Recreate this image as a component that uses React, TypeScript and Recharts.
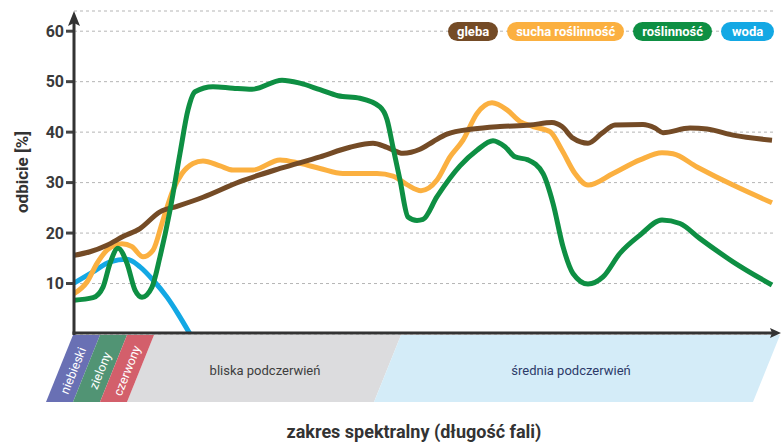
import React from 'react';
import { LineChart, Line, XAxis, YAxis, CartesianGrid } from 'recharts';

// spectral position (arbitrary units along the x axis) and reflectance [%]
const glebaX = [0, 16, 33, 49, 66, 86, 103, 129, 166, 206, 246, 276, 299, 313, 329, 346, 359, 373, 399, 426, 456, 478, 488, 499, 514, 528, 541, 569, 581, 589, 616, 633, 659, 698];
const glebaY = [15.6, 16.3, 17.6, 19.3, 20.9, 24.2, 25.3, 27.1, 30.2, 32.8, 35.1, 37, 37.8, 37, 35.8, 36.6, 38.1, 39.6, 40.6, 41.1, 41.4, 41.9, 41.1, 38.8, 37.8, 39.8, 41.4, 41.5, 40.8, 39.9, 40.8, 40.6, 39.4, 38.4];

const suchaX = [0, 13, 23, 33, 48, 58, 69, 79, 89, 99, 108, 119, 129, 146, 159, 179, 206, 226, 246, 269, 303, 319, 333, 347, 363, 376, 389, 403, 418, 433, 446, 459, 476, 488, 501, 514, 539, 566, 588, 599, 623, 659, 698];
const suchaY = [8, 10.3, 14, 16.6, 17.9, 17.3, 15.3, 16.6, 22.6, 28.5, 31.8, 33.8, 34.3, 33.3, 32.5, 32.5, 34.5, 33.8, 32.8, 31.8, 31.8, 31.3, 29.6, 28.4, 30.5, 35.1, 38.4, 43.7, 45.8, 44.4, 42.1, 41.1, 40.1, 36.4, 31.8, 29.5, 31.8, 34.5, 35.9, 35.7, 33.1, 29.5, 26];

const roslX = [0, 19, 29, 36, 44, 53, 61, 68, 78, 86, 96, 106, 114, 121, 139, 159, 178, 208, 226, 246, 264, 286, 306, 313, 319, 326, 334, 343, 349, 363, 386, 403, 419, 431, 441, 454, 469, 479, 489, 499, 514, 529, 546, 566, 588, 606, 626, 659, 698];
const roslY = [6.7, 7.2, 9.3, 14, 17, 14, 8.7, 7.3, 9.3, 15.3, 24.5, 35.8, 44.4, 48, 49, 48.7, 48.5, 50.3, 49.7, 48.4, 47.2, 46.7, 45, 42.5, 37, 30.5, 23.2, 22.5, 22.7, 27.2, 33.3, 36.4, 38.3, 37.1, 35.1, 34.5, 31.8, 25.9, 17.3, 12, 9.9, 11.3, 16, 19.6, 22.6, 21.9, 18.9, 14.3, 9.7];

const wodaX = [0, 19, 36, 53, 66, 79, 93, 104, 116];
const wodaY = [10.1, 12.3, 14.3, 14.8, 13.3, 10.7, 7.3, 4, 0];

const yTicks = [10, 20, 30, 40, 50, 60];
const seriesNames = ['gleba', 'sucha roślinność', 'roślinność', 'woda'];
const bandNamesVisible = ['niebieski', 'zielony', 'czerwony'];
const bandNamesInfrared = ['bliska podczerwień', 'średnia podczerwień'];
const yTitle = 'odbicie [%]';
const xTitle = 'zakres spektralny (długość fali)';

const zip = (xs: number[], ys: number[]) => xs.map((x, i) => ({ x, y: ys[i] }));

const COLORS = {
  gleba: '#744b26',
  sucha: '#fbb040',
  rosl: '#0e8f43',
  woda: '#13a8e4',
};
const FONT = 'Roboto, "DejaVu Sans", sans-serif';

const series = [
  { name: seriesNames[3], data: zip(wodaX, wodaY), color: COLORS.woda },
  { name: seriesNames[1], data: zip(suchaX, suchaY), color: COLORS.sucha },
  { name: seriesNames[0], data: zip(glebaX, glebaY), color: COLORS.gleba },
  { name: seriesNames[2], data: zip(roslX, roslY), color: COLORS.rosl },
];
const legendColors = [COLORS.gleba, COLORS.sucha, COLORS.rosl, COLORS.woda];

const W = 781;
const H = 442;

function Overlay() {
  const top = 335;
  const bot = 402;
  const s = 27;
  const para = (x0: number, x1: number) =>
    `${x0},${top} ${x1},${top} ${x1 - s},${bot} ${x0 - s},${bot}`;
  const visFills = ['#6970b4', '#519474', '#d35f6b'];
  const visEdges = [73, 100, 127, 154];
  return (
    <svg width={W} height={H} style={{ position: 'absolute', left: 0, top: 0, pointerEvents: 'none' }}>
      <polygon points={para(154, 401)} fill="#dcdcde" />
      <polygon points={para(401, 780)} fill="#d4ecf8" />
      {visFills.map((f, i) => (
        <polygon key={i} points={para(visEdges[i], visEdges[i + 1])} fill={f} />
      ))}
      {bandNamesVisible.map((t, i) => {
        const cx = (visEdges[i] + visEdges[i + 1]) / 2 - s / 2;
        const cy = (top + bot) / 2 + 2;
        return (
          <text key={t} x={cx} y={cy} fill="#ffffff" fontSize={12.5} fontFamily={FONT}
            textAnchor="middle" dominantBaseline="central" transform={`rotate(-68 ${cx} ${cy})`}>
            {t}
          </text>
        );
      })}
      <text x={265} y={370} fill="#3d3d3d" fontSize={13} fontFamily={FONT} textAnchor="middle" dominantBaseline="central">
        {bandNamesInfrared[0]}
      </text>
      <text x={571} y={370} fill="#2c3a68" fontSize={13} fontFamily={FONT} textAnchor="middle" dominantBaseline="central">
        {bandNamesInfrared[1]}
      </text>
      {/* axes with arrows */}
      <line x1={74} y1={335} x2={74} y2={20} stroke="#333" strokeWidth={3} />
      <polygon points="74,11 80,26 74,23 68,26" fill="#333" />
      <line x1={72.5} y1={333} x2={774} y2={333} stroke="#333" strokeWidth={3} />
      <polygon points="781,333 770,338 772,333 770,328" fill="#333" />
      <text x={414} y={431} fill="#333" fontSize={18} fontWeight="bold" fontFamily={FONT} textAnchor="middle" dominantBaseline="central">
        {xTitle}
      </text>
      <text x={22} y={172} fill="#333" fontSize={17} fontWeight="bold" fontFamily={FONT} textAnchor="middle" dominantBaseline="central"
        transform="rotate(-90 22 172)">
        {yTitle}
      </text>
    </svg>
  );
}

function LegendPills() {
  return (
    <div style={{ position: 'absolute', left: 448, top: 22, display: 'flex', gap: 9, fontFamily: FONT }}>
      {seriesNames.map((n, i) => (
        <div key={n} style={{
          background: legendColors[i], color: '#fff', height: 19, lineHeight: '19px', borderRadius: 10,
          padding: i === 3 ? '0 11px' : '0 9px', fontSize: 13, fontWeight: 'bold', whiteSpace: 'nowrap',
        }}>{n}</div>
      ))}
    </div>
  );
}

export default function App() {
  return (
    <div style={{ position: 'absolute', left: 0, top: 0, width: W, height: H, background: '#fff', overflow: 'hidden' }}>
      <LineChart width={W} height={H} margin={{ top: 11, right: 7, bottom: 108, left: 0 }}>
        <CartesianGrid vertical={false} stroke="#b5b5b5" strokeDasharray="3 3" />
        <XAxis dataKey="x" type="number" domain={[0, 700]} hide allowDataOverflow />
        <YAxis
          type="number"
          domain={[0, 64]}
          ticks={yTicks}
          width={74}
          axisLine={false}
          tickSize={8}
          tickLine={{ stroke: '#444', strokeWidth: 3 }}
          tick={{ fill: '#3a3a3a', fontSize: 16, fontWeight: 'bold', fontFamily: FONT }}
          allowDataOverflow
        />
        {series.map((s) => (
          <Line
            key={s.name}
            data={s.data}
            dataKey="y"
            name={s.name}
            type="monotone"
            stroke={s.color}
            strokeWidth={5}
            dot={false}
            activeDot={false}
            isAnimationActive={false}
          />
        ))}
      </LineChart>
      <Overlay />
      <LegendPills />
    </div>
  );
}
